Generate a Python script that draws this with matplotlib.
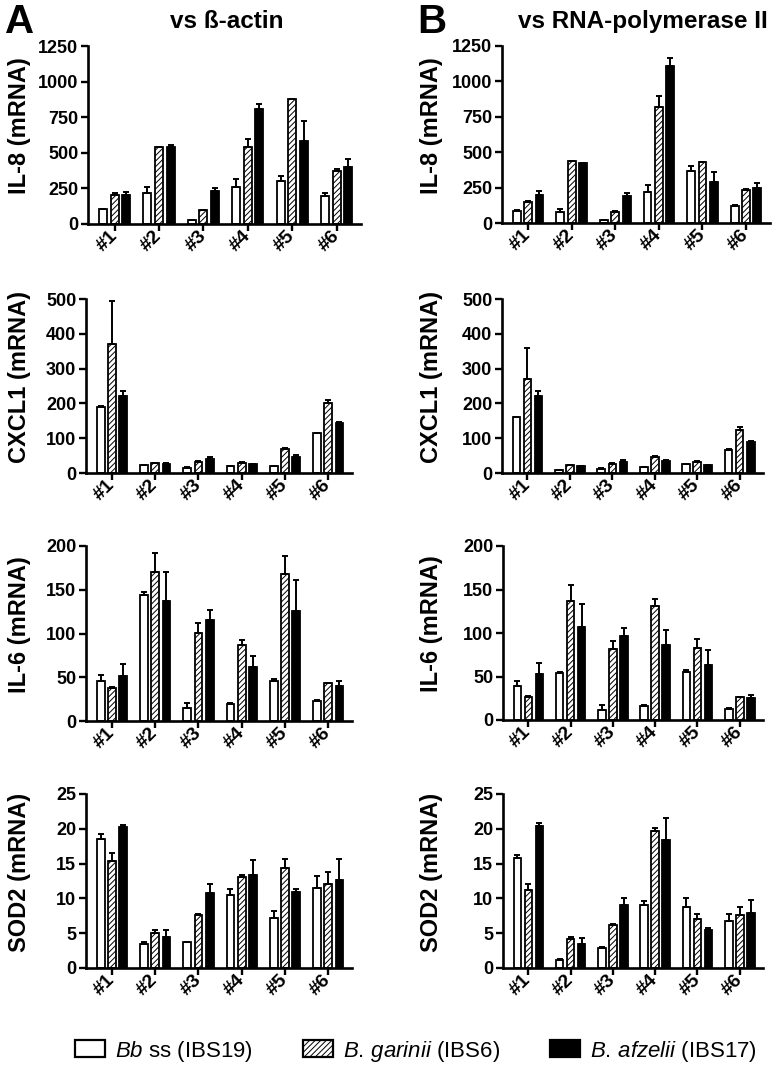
import numpy as np
import matplotlib.pyplot as plt
from matplotlib.patches import Patch

plt.rcParams['font.family'] = ['Liberation Sans', 'DejaVu Sans']
plt.rcParams['mathtext.fontset'] = 'custom'
plt.rcParams['mathtext.it'] = 'Liberation Sans:italic'
plt.rcParams['mathtext.rm'] = 'Liberation Sans'
plt.rcParams['hatch.linewidth'] = 0.7

donors = ['#1', '#2', '#3', '#4', '#5', '#6']
strains = [r'$\it{Bb}$ ss (IBS19)', r'$\it{B.\,garinii}$ (IBS6)', r'$\it{B.\,afzelii}$ (IBS17)']

# each panel: rows = Bb ss, B. garinii, B. afzelii
il8_actin = [[103, 215, 28, 262, 304, 197],
             [206, 539, 98, 543, 876, 375],
             [201, 543, 234, 806, 583, 400]]
il8_actin_err = [[4, 47, 3, 57, 31, 21],
                 [10, 4, 3, 54, 4, 9],
                 [24, 12, 21, 35, 138, 59]]

il8_pol = [[85, 76, 19, 220, 369, 123],
           [151, 435, 80, 820, 430, 236],
           [198, 423, 194, 1108, 293, 250]]
il8_pol_err = [[4, 21, 3, 49, 37, 5],
               [5, 3, 2, 80, 3, 3],
               [29, 4, 19, 55, 69, 36]]

cxcl1_actin = [[190, 22, 15, 20, 20, 115],
               [370, 28, 32, 30, 70, 200],
               [220, 26, 40, 25, 45, 145]]
cxcl1_actin_err = [[2, 2, 1, 1, 1, 1],
                   [125, 2, 3, 2, 2, 10],
                   [15, 2, 6, 1, 8, 2]]

cxcl1_pol = [[160, 8, 12, 17, 25, 67],
             [270, 22, 27, 45, 33, 125],
             [222, 20, 33, 35, 22, 90]]
cxcl1_pol_err = [[1, 1, 1, 1, 1, 1],
                 [90, 2, 2, 4, 2, 8],
                 [15, 1, 5, 2, 2, 2]]

il6_actin = [[46, 144, 15, 19, 46, 23],
             [38, 170, 101, 87, 168, 43],
             [52, 137, 116, 62, 126, 40]]
il6_actin_err = [[7, 3, 6, 2, 2, 1],
                 [1, 22, 11, 6, 21, 1],
                 [13, 33, 11, 12, 35, 6]]

il6_pol = [[39, 54, 12, 16, 55, 13],
           [27, 137, 82, 131, 83, 26],
           [53, 107, 96, 86, 63, 25]]
il6_pol_err = [[6, 1, 5, 1.5, 2, 1],
               [1, 18, 9, 8, 10, 1],
               [13, 26, 10, 17, 18, 4]]

sod2_actin = [[18.6, 3.4, 3.7, 10.5, 7.2, 11.5],
              [15.4, 5.1, 7.6, 13.1, 14.3, 12.1],
              [20.2, 4.4, 10.8, 13.3, 10.9, 12.6]]
sod2_actin_err = [[0.6, 0.4, 0.1, 0.8, 1.0, 1.7],
                  [1.1, 0.35, 0.1, 0.3, 1.3, 1.7],
                  [0.4, 1.0, 1.3, 2.2, 0.5, 3.0]]

sod2_pol = [[15.8, 1.2, 2.9, 9.0, 8.7, 6.8],
            [11.2, 4.2, 6.2, 19.7, 7.0, 7.6],
            [20.4, 3.5, 9.0, 18.4, 5.5, 7.9]]
sod2_pol_err = [[0.5, 0.1, 0.1, 0.65, 1.3, 1.0],
                [0.8, 0.3, 0.1, 0.4, 0.7, 1.1],
                [0.4, 0.8, 1.1, 3.1, 0.3, 1.9]]

W, H = 779, 1066
fig = plt.figure(figsize=(W / 100, H / 100), dpi=100)

# (data, err, ylabel, ymax, step, pixel box x0, x1, y0, y1)
panels = [
    (il8_actin, il8_actin_err, 'IL-8 (mRNA)', 1250, 250, 88, 361, 46, 224),
    (il8_pol, il8_pol_err, 'IL-8 (mRNA)', 1250, 250, 502, 770, 46, 223),
    (cxcl1_actin, cxcl1_actin_err, 'CXCL1 (mRNA)', 500, 100, 86, 352, 299, 473),
    (cxcl1_pol, cxcl1_pol_err, 'CXCL1 (mRNA)', 500, 100, 502, 763, 299, 473),
    (il6_actin, il6_actin_err, 'IL-6 (mRNA)', 200, 50, 86, 352, 546, 721),
    (il6_pol, il6_pol_err, 'IL-6 (mRNA)', 200, 50, 503, 763, 546, 720),
    (sod2_actin, sod2_actin_err, 'SOD2 (mRNA)', 25, 5, 86, 352, 794, 968),
    (sod2_pol, sod2_pol_err, 'SOD2 (mRNA)', 25, 5, 503, 763, 794, 968),
]

faces = ['white', 'white', 'black']
hatches = [None, '//////', None]
offsets = [-0.26, 0.0, 0.26]
x = np.arange(len(donors))

for i, (data, err, ylab, ymax, step, x0, x1, y0, y1) in enumerate(panels):
    ax = fig.add_axes([x0 / W, 1 - y1 / H, (x1 - x0) / W, (y1 - y0) / H])
    for k in range(3):
        ax.bar(x + offsets[k], data[k], width=0.18, color=faces[k], edgecolor='black',
               hatch=hatches[k], linewidth=1.3, zorder=2)
        # only the upper half of the error bar is shown
        ax.errorbar(x + offsets[k], data[k], yerr=[np.zeros(6), err[k]], fmt='none',
                    ecolor='black', elinewidth=1.4, capsize=2.5, capthick=1.4, zorder=3)
    ax.set_xlim(-0.6, 5.55)
    ax.set_ylim(0, ymax)
    ax.set_yticks(np.arange(0, ymax + 1, step))
    ax.set_xticks(x)
    ax.set_xticklabels(donors, rotation=45, ha='right', va='center', rotation_mode='anchor')
    for s in ['top', 'right']:
        ax.spines[s].set_visible(False)
    for s in ['left', 'bottom']:
        ax.spines[s].set_linewidth(1.9)
    ax.tick_params(axis='both', width=1.7, length=5, labelsize=13, pad=2)
    ax.tick_params(axis='x', labelsize=14)
    for lab in ax.get_xticklabels() + ax.get_yticklabels():
        lab.set_fontweight('bold')
    ax.set_ylabel(ylab, fontsize=17, fontweight='bold')
    lx = 31 if i % 2 == 0 else 443
    ax.yaxis.set_label_coords(lx / W, 1 - ((y0 + y1) / 2 - 9) / H, transform=fig.transFigure)

fig.text(5 / W, 1 - 33 / H, 'A', fontsize=29, fontweight='bold', va='baseline', ha='left')
fig.text(417 / W, 1 - 33 / H, 'B', fontsize=29, fontweight='bold', va='baseline', ha='left')
fig.text(227 / W, 1 - 28 / H, 'vs ß-actin', fontsize=17.5, fontweight='bold', va='baseline', ha='center')
fig.text(643 / W, 1 - 28 / H, 'vs RNA-polymerase II', fontsize=17.5, fontweight='bold', va='baseline', ha='center')

handles = [Patch(facecolor=faces[k], edgecolor='black', hatch=hatches[k], linewidth=1.6) for k in range(3)]
fig.legend(handles, strains, loc='center', bbox_to_anchor=(416 / W, 1 - 1051 / H), ncol=3,
           frameon=False, fontsize=16, handlelength=1.35, handleheight=0.77,
           handletextpad=0.45, columnspacing=2.25, borderpad=0, borderaxespad=0)

fig.savefig('out.png', dpi=100)
